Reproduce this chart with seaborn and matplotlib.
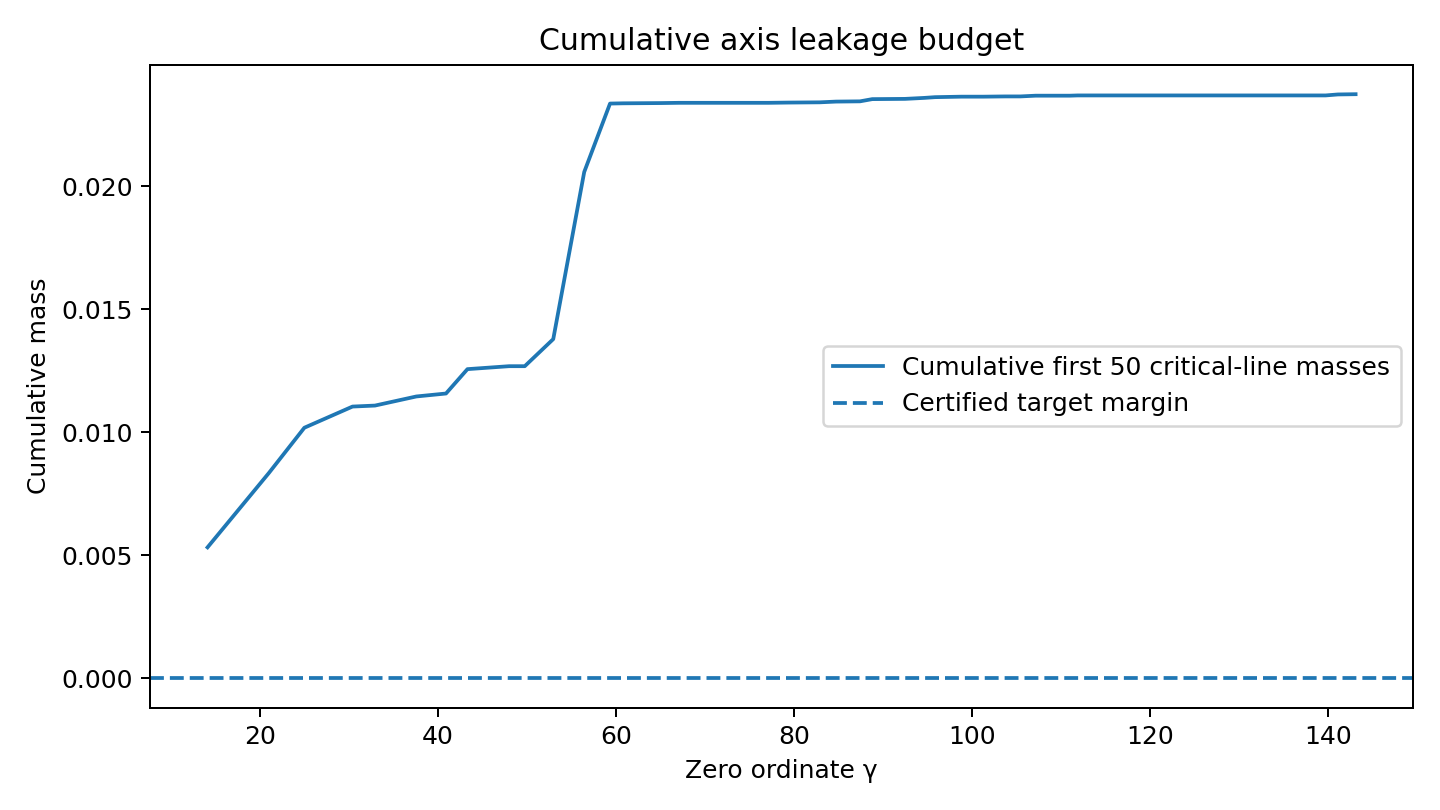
import pandas as pd
import matplotlib
matplotlib.use('Agg')
import matplotlib.pyplot as plt
import seaborn as sns

# ordinates of the first 50 zeta zeros on the critical line
gammas = [14.13, 21.02, 25.01, 30.42, 32.94, 37.59, 40.92, 43.33, 48.01, 49.77,
          52.97, 56.45, 59.35, 60.83, 65.11, 67.08, 69.55, 72.07, 75.70, 77.14,
          79.34, 82.91, 84.74, 87.43, 88.81, 92.49, 94.65, 95.87, 98.83, 101.32,
          103.73, 105.45, 107.17, 111.03, 111.87, 114.32, 116.23, 118.79, 121.37, 122.95,
          124.26, 127.52, 129.58, 131.09, 133.50, 134.76, 138.12, 139.74, 141.12, 143.11]

cum_mass = [0.00532, 0.00834, 0.01018, 0.01104, 0.01108, 0.01145, 0.01157, 0.01256, 0.01268, 0.01268,
            0.01378, 0.02057, 0.02335, 0.02336, 0.02337, 0.02338, 0.02338, 0.02338, 0.02338, 0.02338,
            0.02339, 0.02340, 0.02343, 0.02344, 0.02353, 0.02354, 0.02358, 0.02361, 0.02363, 0.02363,
            0.02364, 0.02364, 0.02367, 0.02367, 0.02368, 0.02368, 0.02368, 0.02368, 0.02368, 0.02368,
            0.02368, 0.02368, 0.02368, 0.02368, 0.02368, 0.02368, 0.02368, 0.02368, 0.02372, 0.02373]

target_margin = 0.0

df = pd.DataFrame({'gamma': gammas, 'mass': cum_mass})

fig, ax = plt.subplots(figsize=(8, 4.5), dpi=180)
sns.lineplot(data=df, x='gamma', y='mass', ax=ax, color='C0',
             label='Cumulative first 50 critical-line masses')
ax.axhline(target_margin, color='C0', linestyle='--', label='Certified target margin')
ax.set_title('Cumulative axis leakage budget')
ax.set_xlabel('Zero ordinate γ')
ax.set_ylabel('Cumulative mass')
ax.legend(loc='center right')
fig.tight_layout()
fig.savefig('out.png', dpi=180)
